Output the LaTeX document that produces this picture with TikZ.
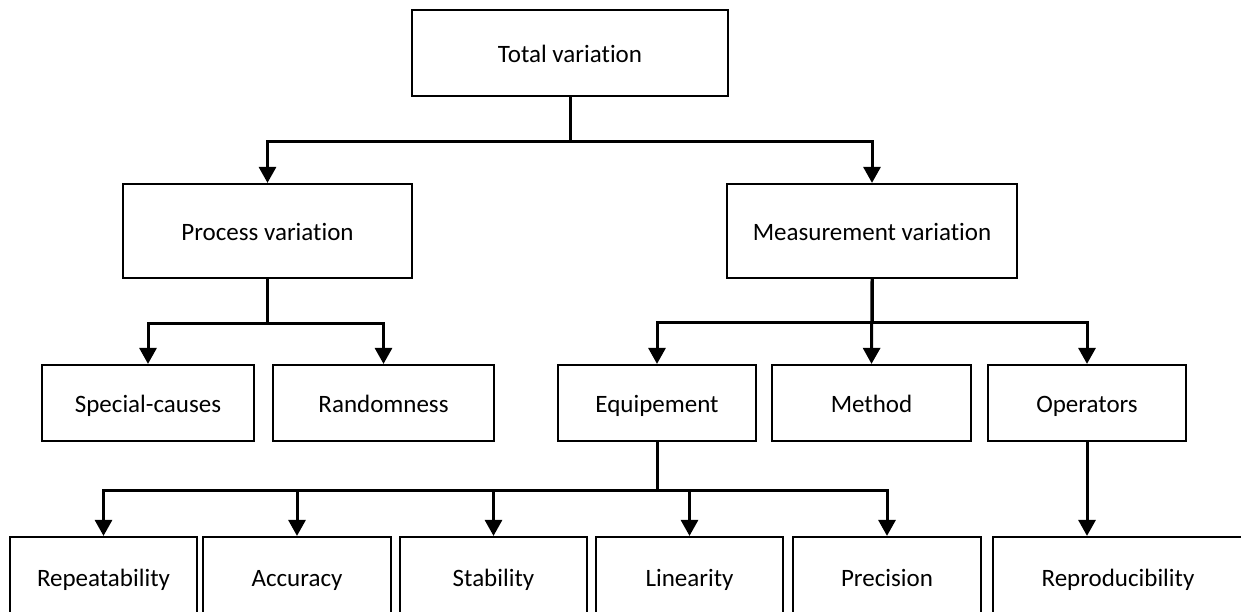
\documentclass[tikz,border=0pt]{standalone}
\usepackage{fontspec}
\setmainfont{Carlito}[Ligatures={NoCommon}]
\usetikzlibrary{arrows.meta}
\begin{document}
\begin{tikzpicture}[x=1pt,y=-1pt,
  box/.style={draw,line width=2.2pt,rectangle,inner sep=0pt,text height=18pt,text depth=0pt,font=\fontsize{25}{30}\selectfont},
  link/.style={line width=3pt},
  arr/.style={link,-{Triangle[width=17pt,length=16pt]}}]
\useasboundingbox (0,0) rectangle (1241,611);
\clip (0,0) rectangle (1241,611);
% level 0
\node[box,minimum width=316pt,minimum height=86pt] (tot) at (570,53) {Total variation};
% level 1
\node[box,minimum width=289pt,minimum height=94pt] (proc) at (267.5,231) {Process variation};
\node[box,minimum width=290pt,minimum height=94pt] (meas) at (872,231) {Measurement variation};
% level 2
\node[box,minimum width=212pt,minimum height=76pt] (spec) at (148,403) {Special-causes};
\node[box,minimum width=221pt,minimum height=76pt] (rand) at (383.5,403) {Randomness};
\node[box,minimum width=198pt,minimum height=76pt] (equip) at (657,403) {Equipement};
\node[box,minimum width=199pt,minimum height=76pt] (meth) at (871.5,403) {Method};
\node[box,minimum width=198pt,minimum height=76pt] (oper) at (1087,403) {Operators};
% level 3
\node[box,minimum width=187pt,minimum height=80pt] (rep) at (103.5,577) {Repeatability};
\node[box,minimum width=188pt,minimum height=80pt] (acc) at (297,577) {Accuracy};
\node[box,minimum width=187pt,minimum height=80pt] (stab) at (493.5,577) {Stability};
\node[box,minimum width=187pt,minimum height=80pt] (lin) at (689.5,577) {Linearity};
\node[box,minimum width=188pt,minimum height=80pt] (prec) at (887,577) {Precision};
\node[box,minimum width=250pt,minimum height=80pt] (repro) at (1118,577) {Reproducibility};
% connectors
\draw[link] (tot.south) -- ++(0,44) coordinate (j0);
\draw[arr] (j0) -| (proc.north);
\draw[arr] (j0) -| (meas.north);
\draw[link] (proc.south) -- ++(0,44) coordinate (j1);
\draw[arr] (j1) -| (spec.north);
\draw[arr] (j1) -| (rand.north);
\draw[link] (meas.south) -- ++(0,43) coordinate (j2);
\draw[arr] (j2) -| (equip.north);
\draw[arr] (meas.south) -- (meth.north);
\draw[arr] (j2) -| (oper.north);
\draw[link] (equip.south) -- ++(0,48) coordinate (j3);
\draw[arr] (j3) -| (rep.north);
\draw[arr] (j3) -| (acc.north);
\draw[arr] (j3) -| (stab.north);
\draw[arr] (j3) -| (lin.north);
\draw[arr] (j3) -| (prec.north);
\draw[arr] (oper.south) -- (oper.south |- repro.north);
\end{tikzpicture}
\end{document}
